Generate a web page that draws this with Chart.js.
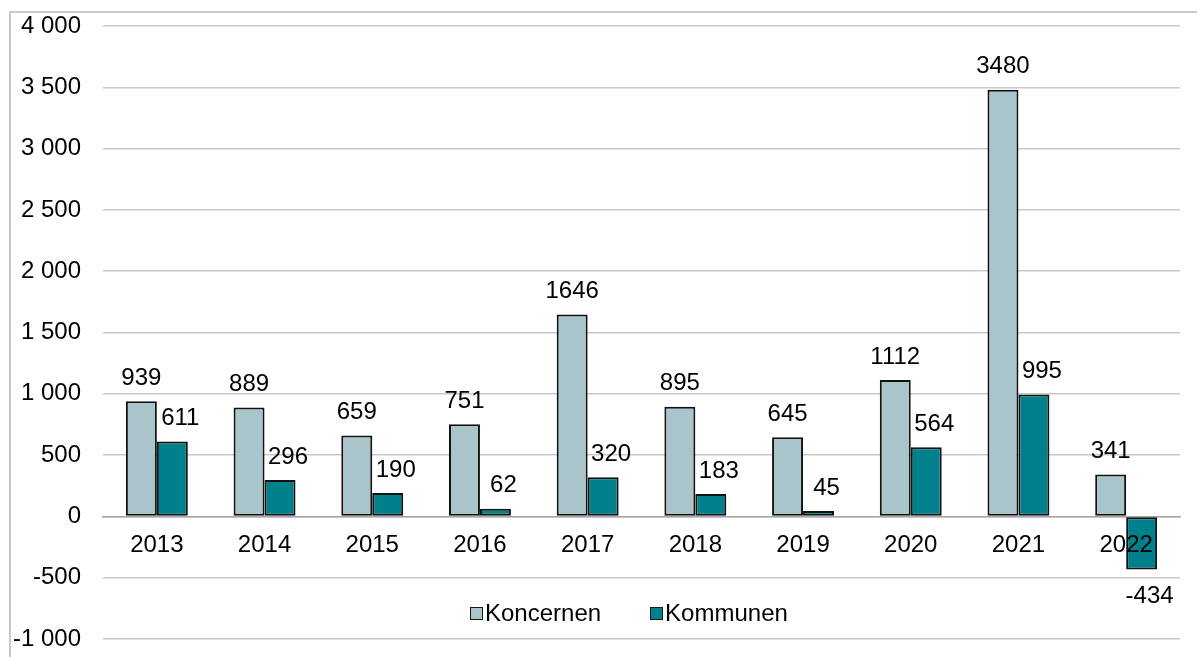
<!DOCTYPE html>
<html lang="sv">
<head>
    <meta charset="UTF-8">
    <title>Koncernen och Kommunen 2013-2022</title>
    <script src="https://cdn.jsdelivr.net/npm/chart.js"></script>
    <style>
        body {
            margin: 0;
            background: #ffffff;
            overflow: hidden;
            font-family: "Liberation Sans", Arial, sans-serif;
        }
        .frame {
            position: absolute;
            left: 9px;
            top: 11px;
            width: 1400px;
            height: 800px;
            border: 2px solid #c9c9c9;
        }
        #chart {
            position: absolute;
            left: 0;
            top: 0;
        }
        .legend {
            position: absolute;
            left: 470px;
            top: 599px;
            display: flex;
            font-size: 24px;
            line-height: 28px;
            color: #000;
        }
        .legend span.item {
            display: flex;
            align-items: center;
            margin-right: 49px;
        }
        .legend span.box {
            display: inline-block;
            width: 11px;
            height: 11px;
            border: 1px solid #1a1a1a;
            margin-right: 2px;
        }
    </style>
</head>
<body>
    <div class="frame"></div>
    <canvas id="chart" width="1197" height="657"></canvas>
    <div class="legend" id="legend"></div>

    <script>
        const years = ["2013", "2014", "2015", "2016", "2017", "2018", "2019", "2020", "2021", "2022"];
        const koncernen = [939, 889, 659, 751, 1646, 895, 645, 1112, 3480, 341];
        const kommunen = [611, 296, 190, 62, 320, 183, 45, 564, 995, -434];
        const seriesNames = ["Koncernen", "Kommunen"];
        const seriesColors = ["#a9c4ca", "#00808a"];

        const font = { family: "'Liberation Sans', Arial, sans-serif", size: 24 };

        function spaced(v) {
            return String(v).replace(/\B(?=(\d{3})+(?!\d))/g, " ");
        }

        // values over/under each bar
        const valueLabels = {
            id: "valueLabels",
            afterDatasetsDraw(chart) {
                const ctx = chart.ctx;
                ctx.save();
                ctx.font = "24px 'Liberation Sans', Arial, sans-serif";
                ctx.fillStyle = "#000";
                ctx.textAlign = "center";
                ctx.textBaseline = "middle";
                chart.data.datasets.forEach((ds, di) => {
                    chart.getDatasetMeta(di).data.forEach((bar, i) => {
                        const v = ds.data[i];
                        const dx = di === 1 ? 8 : 0;
                        const y = v >= 0 ? bar.y - 23 : bar.y + 27;
                        ctx.fillText(String(v), bar.x + dx, y);
                    });
                });
                ctx.restore();
            }
        };

        const ctx = document.getElementById("chart").getContext("2d");
        new Chart(ctx, {
            type: "bar",
            data: {
                labels: years,
                datasets: [
                    { label: seriesNames[0], data: koncernen, backgroundColor: seriesColors[0] },
                    { label: seriesNames[1], data: kommunen, backgroundColor: seriesColors[1] }
                ]
            },
            options: {
                responsive: false,
                animation: false,
                layout: { padding: { left: 0, right: 17, top: 26, bottom: 18 } },
                datasets: {
                    bar: {
                        categoryPercentage: 0.575,
                        barPercentage: 1,
                        borderColor: "#111111",
                        borderWidth: 2,
                        borderSkipped: false
                    }
                },
                plugins: {
                    legend: { display: false },
                    tooltip: { enabled: false }
                },
                scales: {
                    x: {
                        position: { y: 0 },
                        afterFit(scale) { scale.height = 0; },
                        grid: { display: false, drawTicks: false },
                        border: { display: true, color: "#a6a6a6", width: 1.5 },
                        ticks: { color: "#000", font: font, padding: 15, maxRotation: 0, z: 1 }
                    },
                    y: {
                        min: -1000,
                        max: 4000,
                        afterFit(scale) {
                            scale.width = 103;
                            scale.paddingTop = 0;
                            scale.paddingBottom = 0;
                        },
                        grid: { color: "#c8c8c8", lineWidth: 1.5, drawTicks: false },
                        border: { display: false },
                        ticks: {
                            stepSize: 500,
                            color: "#000",
                            font: font,
                            padding: 22,
                            callback: v => spaced(v)
                        }
                    }
                }
            },
            plugins: [valueLabels]
        });

        const legend = document.getElementById("legend");
        seriesNames.forEach((name, i) => {
            const item = document.createElement("span");
            item.className = "item";
            const box = document.createElement("span");
            box.className = "box";
            box.style.background = seriesColors[i];
            item.appendChild(box);
            item.appendChild(document.createTextNode(name));
            legend.appendChild(item);
        });
    </script>
</body>
</html>
